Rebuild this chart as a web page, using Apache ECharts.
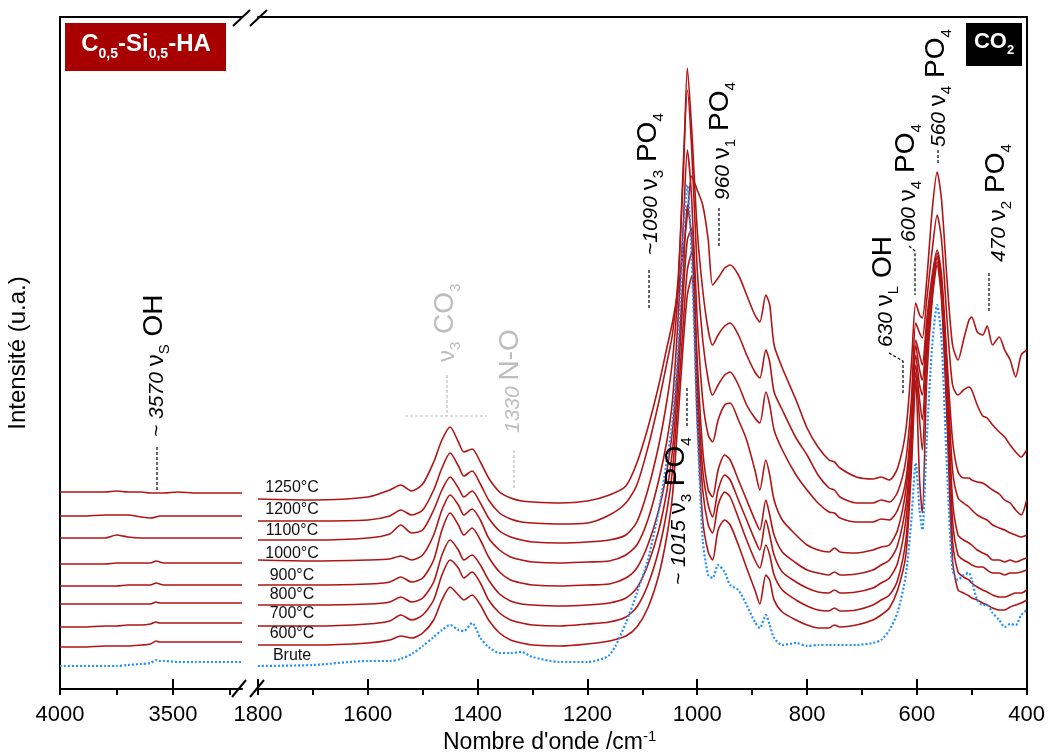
<!DOCTYPE html>
<html><head><meta charset="utf-8">
<script src="https://cdn.jsdelivr.net/npm/echarts@6/dist/echarts.min.js"></script>
<style>html,body{margin:0;padding:0;background:#fff}#c{width:1048px;height:753px}</style>
</head><body><div id="c"></div>
<script>
// ---- wavenumbers (cm-1) ----
const wnLeft = [4000, 3900, 3800, 3750, 3700, 3640, 3600, 3575, 3560, 3540, 3480, 3400, 3300, 3195];
const wnRight = [1800,1700,1600,1560,1540,1520,1500,1480,1465,1450,1435,1425,1410,1395,1380,1360,1340,1320,1300,1250,
 1200,1160,1130,1110,1090,1070,1055,1045,1035,1025,1018,1010,1000,990,980,972,962,950,940,925,
 910,895,886,875,868,860,845,820,800,780,760,750,740,710,680,665,650,635,620,610,
 602,595,590,582,572,563,555,545,535,525,515,505,500,490,480,472,462,450,440,430,420,410,400];

// ---- stacked intensities (a.u.) ----
const lo1250 = [197,197,197,198,197,197,196,196,196,196,197,196,196,196];
const hi1250 = [190,189,192,199,204,198,205,227,249,262,247,237,240,227,211,197,191,188,187,186,
 188,194,203,226,261,304,342,367,399,439,474,513,499,484,449,404,411,421,424,414,
 394,374,367,394,384,344,321,289,261,242,229,227,221,212,210,212,209,221,259,324,
 386,374,371,409,479,517,489,409,344,329,349,369,372,357,354,363,344,352,339,329,312,334,339];
const lo1200 = [173,173,174,174,174,172,171,172,173,173,173,173,173,173];
const hi1200 = [168,168,169,173,179,174,179,199,221,236,223,213,218,205,189,176,170,167,166,165,
 166,174,186,204,241,287,327,355,409,519,621,559,459,399,359,344,354,363,366,354,
 334,317,311,339,327,297,279,251,234,214,201,199,192,186,186,189,187,197,229,289,
 366,356,351,389,439,474,449,369,304,294,299,302,299,284,273,271,264,257,252,244,237,232,239];
const lo1100 = [151,151,151,154,152,151,151,151,151,151,151,151,151,151];
const hi1100 = [149,149,151,155,164,156,159,179,199,212,201,192,198,186,171,158,152,149,147,146,
 147,149,154,167,199,244,289,329,399,529,599,539,419,349,309,294,304,314,317,304,
 284,271,266,297,284,259,239,214,199,186,177,176,171,167,167,170,169,179,209,269,
 349,334,324,369,414,439,414,329,249,217,211,211,209,207,206,203,199,195,189,186,179,174,189];
const lo1000 = [125,125,125,126,126,126,126,128,127,126,126,126,126,126];
const hi1000 = [129,128,129,130,133,129,134,154,179,194,184,174,180,169,151,139,132,129,127,126,
 127,128,134,144,169,209,249,289,369,469,539,489,369,289,254,247,269,284,286,269,
 249,219,199,229,214,189,169,154,144,139,137,141,137,136,139,142,144,159,199,259,
 344,319,309,359,409,436,409,319,219,191,186,182,179,174,171,169,164,161,159,156,154,152,154];
const lo900 = [103,103,103,103,104,104,104,106,105,104,104,104,104,104];
const hi900 = [104,104,105,107,112,107,111,129,159,176,164,154,161,149,132,117,109,106,104,103,
 104,105,111,121,144,179,219,259,329,419,484,449,329,239,199,192,219,234,229,209,
 189,169,159,189,174,154,137,126,119,116,114,117,114,115,119,124,129,144,184,249,
 334,304,294,349,404,433,404,309,189,154,149,146,144,139,136,134,129,129,127,129,127,129,131];
const lo800 = [85,85,85,85,85,85,85,87,86,86,86,86,86,86];
const hi800 = [84,84,85,87,92,87,91,107,134,149,139,129,134,124,109,95,88,85,84,83,
 84,86,91,101,124,159,199,239,309,399,449,461,309,219,184,172,199,214,209,189,
 169,149,139,169,154,134,117,107,101,97,96,99,96,97,101,106,111,126,169,239,
 324,289,269,339,399,431,399,289,169,134,129,126,124,122,122,119,116,116,114,116,116,117,119];
const lo700 = [62,62,63,63,64,64,65,67,66,66,66,66,66,66];
const hi700 = [63,63,65,68,74,69,74,89,114,129,121,111,117,106,89,76,69,66,64,63,
 65,67,72,82,104,139,179,219,289,369,419,437,289,199,164,156,184,197,192,171,
 149,129,121,144,134,114,99,89,83,79,78,81,78,79,84,89,94,109,149,229,
 317,269,239,329,394,427,394,279,149,117,112,109,106,102,99,97,94,92,92,94,96,96,99];
const lo600 = [42,42,43,43,43,44,45,48,47,47,47,47,47,47];
const hi600 = [44,44,46,49,53,51,56,69,89,102,94,89,94,84,69,56,49,46,44,43,
 45,48,53,62,81,114,154,194,269,349,394,413,269,169,137,129,159,169,164,144,
 121,99,85,114,109,89,77,69,64,61,61,64,62,64,69,74,81,99,134,219,
 309,209,176,309,389,424,389,269,129,99,96,93,91,89,86,84,81,79,79,82,84,86,89];
const loBrute = [23,23,23,23,24,25,26,29,28,28,27,27,27,27];
const hiBrute = [23,24,28,28,30,35,43,52,59,64,59,58,66,51,42,36,36,37,32,27,
 27,34,66,96,129,179,229,269,339,459,504,429,269,149,114,111,124,117,104,99,
 84,67,61,74,64,51,44,46,43,44,44,44,44,44,46,49,59,77,114,169,
 226,179,159,249,344,384,349,219,119,109,114,116,109,89,84,84,76,69,62,65,64,74,79];

const sampleNames = ['1250°C','1200°C','1100°C','1000°C','900°C','800°C','700°C','600°C','Brute'];
const leftTicks = [4000, 3750, 3500, 3250];
const leftLabels = [4000, 3500];

const RED = '#B01515', BLUE = '#1E90FF', GREY = '#BDBDBD';
const F = '"Liberation Sans", Arial, sans-serif';

const samples = [
  {lo: lo1250, hi: hi1250}, {lo: lo1200, hi: hi1200}, {lo: lo1100, hi: hi1100},
  {lo: lo1000, hi: hi1000}, {lo: lo900, hi: hi900}, {lo: lo800, hi: hi800},
  {lo: lo700, hi: hi700}, {lo: lo600, hi: hi600}, {lo: loBrute, hi: hiBrute}
];

const series = [];
samples.forEach((s, k) => {
  const brute = sampleNames[k] === 'Brute';
  const ls = {color: brute ? BLUE : RED, width: brute ? 2.2 : 1.6, type: brute ? [2, 2] : 'solid'};
  const base = {type: 'line', name: sampleNames[k], showSymbol: false, symbol: 'none', smooth: 0.25,
    lineStyle: ls, itemStyle: {color: ls.color}, z: brute ? 3 : 2, animation: false};
  series.push(Object.assign({}, base, {xAxisIndex: 0, yAxisIndex: 0, data: wnLeft.map((w, i) => [w, s.lo[i]])}));
  series.push(Object.assign({}, base, {xAxisIndex: 3, yAxisIndex: 1, data: wnRight.map((w, i) => [w, s.hi[i]])}));
});

const axBase = {type: 'value', splitLine: {show: false}, axisLine: {onZero: false}};
const lineSt = {color: '#000', width: 2};
const fmt = v => String(v);
const xAxis = [
  Object.assign({}, axBase, {gridIndex: 0, min: 3195, max: 4000, inverse: true, position: 'bottom',
    axisLine: {show: true, onZero: false, lineStyle: lineSt},
    axisTick: {show: true, customValues: leftTicks, length: 6, lineStyle: lineSt},
    axisLabel: {customValues: leftLabels, fontSize: 22, color: '#000', margin: 15, fontFamily: F, formatter: fmt}}),
  Object.assign({}, axBase, {gridIndex: 0, min: 3195, max: 4000, inverse: true, position: 'bottom',
    axisLine: {show: false}, axisTick: {show: true, inside: true, customValues: leftLabels, length: 10, lineStyle: lineSt},
    axisLabel: {show: false}}),
  Object.assign({}, axBase, {gridIndex: 0, min: 3195, max: 4000, inverse: true, position: 'top',
    axisLine: {show: true, onZero: false, lineStyle: lineSt}, axisTick: {show: false}, axisLabel: {show: false}}),
  Object.assign({}, axBase, {gridIndex: 1, min: 400, max: 1800, interval: 200, inverse: true, position: 'bottom',
    axisLine: {show: true, onZero: false, lineStyle: lineSt},
    axisTick: {show: true, length: 6, lineStyle: lineSt},
    minorTick: {show: true, splitNumber: 2, length: 6, lineStyle: lineSt},
    axisLabel: {fontSize: 22, color: '#000', margin: 15, fontFamily: F, formatter: fmt}}),
  Object.assign({}, axBase, {gridIndex: 1, min: 400, max: 1800, interval: 200, inverse: true, position: 'bottom',
    axisLine: {show: false}, axisTick: {show: true, inside: true, length: 10, lineStyle: lineSt}, axisLabel: {show: false}}),
  Object.assign({}, axBase, {gridIndex: 1, min: 400, max: 1800, inverse: true, position: 'top',
    axisLine: {show: true, onZero: false, lineStyle: lineSt}, axisTick: {show: false}, axisLabel: {show: false}})
];
const yAxis = [
  Object.assign({}, axBase, {gridIndex: 0, min: 0, max: 672, position: 'left',
    axisLine: {show: true, onZero: false, lineStyle: lineSt}, axisTick: {show: false}, axisLabel: {show: false},
    name: 'Intensité (u.a.)', nameLocation: 'middle', nameGap: 30,
    nameTextStyle: {fontSize: 24, color: '#000', fontFamily: F}}),
  Object.assign({}, axBase, {gridIndex: 1, min: 0, max: 672, position: 'right',
    axisLine: {show: true, onZero: false, lineStyle: lineSt}, axisTick: {show: false}, axisLabel: {show: false}})
];

// ---- annotations ----
function rich(c) {
  const m = (fs, extra) => Object.assign({fontSize: fs, lineHeight: fs, fill: c, fontFamily: F, verticalAlign: 'bottom', padding: [0, 0, 4, 0]}, extra || {});
  return {
    i: m(21, {fontStyle: 'italic'}),
    n: m(24),
    b: m(28),
    s: {fontSize: 15, lineHeight: 15, fill: c, fontFamily: F, verticalAlign: 'bottom'}
  };
}
function vtext(x, y, text, c) {
  return {type: 'text', x: x, y: y, rotation: Math.PI / 2, z: 100,
    style: {text: text, rich: rich(c), align: 'left', verticalAlign: 'middle', fill: c, font: '20px ' + F}};
}
function dline(pts, c) {
  return {type: 'polyline', z: 100, shape: {points: pts}, style: {stroke: c || '#000', lineWidth: 1.2, lineDash: [3, 2], fill: null}};
}
function sline(x1, y1, x2, y2) {
  return {type: 'line', z: 100, shape: {x1, y1, x2, y2}, style: {stroke: '#000', lineWidth: 2}};
}

const tempY = [488, 510, 531, 554, 576, 595, 614, 634, 656];
const graphics = [
  {type: 'rect', z: 90, shape: {x: 65, y: 23, width: 161, height: 48}, style: {fill: '#A80000'}},
  {type: 'text', z: 100, x: 146, y: 49, style: {text: '{b|C}{s|0,5}{b|-Si}{s|0,5}{b|-HA}', align: 'center', verticalAlign: 'middle',
    rich: {b: {fontSize: 24, fontWeight: 'bold', fill: '#fff', fontFamily: F, lineHeight: 24, verticalAlign: 'bottom', padding: [0, 0, 5, 0]},
           s: {fontSize: 14, fontWeight: 'bold', fill: '#fff', fontFamily: F, lineHeight: 14, verticalAlign: 'bottom'}}}},
  {type: 'rect', z: 90, shape: {x: 966, y: 23, width: 56, height: 43}, style: {fill: '#000'}},
  {type: 'text', z: 100, x: 994, y: 46, style: {text: '{b|CO}{s|2}', align: 'center', verticalAlign: 'middle',
    rich: {b: {fontSize: 22, fontWeight: 'bold', fill: '#fff', fontFamily: F, lineHeight: 22, verticalAlign: 'bottom', padding: [0, 0, 4, 0]},
           s: {fontSize: 13, fontWeight: 'bold', fill: '#fff', fontFamily: F, lineHeight: 13, verticalAlign: 'bottom'}}}},
  // break marks
  sline(233, 26, 250, 10), sline(250, 26, 267, 10),
  sline(232, 697, 246, 680), sline(250, 697, 264, 680),
  // x axis title
  {type: 'text', z: 100, x: 443, y: 742, style: {text: "{a|Nombre d'onde /cm}{p|-1}", align: 'left', verticalAlign: 'middle',
    rich: {a: {fontSize: 23, fill: '#000', fontFamily: F, lineHeight: 25, verticalAlign: 'bottom'},
           p: {fontSize: 15, fill: '#000', fontFamily: F, lineHeight: 15, verticalAlign: 'top'}}}},
  // rotated band labels
  vtext(158, 437, '{i|~ 3570 }{n|ν}{s|S}{b| OH}', '#000'),
  dline([[157, 447], [157, 490]]),
  vtext(449, 362, '{n|ν}{s|3}{b| CO}{s|3}', GREY),
  dline([[447, 375], [447, 416]], GREY), dline([[405, 416], [487, 416]], GREY),
  vtext(514, 433, '{i|1330 }{b|N-O}', GREY),
  dline([[514, 450], [514, 488]], GREY),
  vtext(652, 255, '{i|~1090 }{n|ν}{s|3}{b| PO}{s|4}', '#000'),
  dline([[649, 270], [649, 310]]),
  vtext(724, 200, '{i|960 }{n|ν}{s|1}{b| PO}{s|4}', '#000'),
  dline([[719, 208], [719, 247]]),
  vtext(680, 585, '{i|~ 1015 }{n|ν}{s|3}{b| PO}{s|4}', '#000'),
  dline([[687, 388], [687, 427]]),
  vtext(887, 347, '{i|630 }{n|ν}{s|L}{b| OH}', '#000'),
  dline([[889, 353], [903, 361], [903, 395]]),
  vtext(910, 242, '{i|600 }{n|ν}{s|4}{b| PO}{s|4}', '#000'),
  dline([[909, 246], [915, 251], [915, 295]]),
  vtext(940, 147, '{i|560 }{n|ν}{s|4}{b| PO}{s|4}', '#000'),
  dline([[938, 150], [938, 165]]),
  vtext(1000, 262, '{i|470 }{n|ν}{s|2}{b| PO}{s|4}', '#000'),
  dline([[989, 273], [989, 313]])
];
sampleNames.forEach((n, k) => {
  graphics.push({type: 'text', z: 100, x: 292, y: tempY[k], style: {text: n, align: 'center', verticalAlign: 'middle',
    fill: '#111', font: '16px ' + F}});
});

const chart = echarts.init(document.getElementById('c'), null, {renderer: 'canvas'});
chart.setOption({
  animation: false,
  backgroundColor: '#fff',
  grid: [
    {left: 60, top: 17, width: 182, height: 672},
    {left: 258, top: 17, width: 770, height: 672}
  ],
  xAxis: xAxis,
  yAxis: yAxis,
  series: series,
  graphic: graphics
});
</script></body></html>
